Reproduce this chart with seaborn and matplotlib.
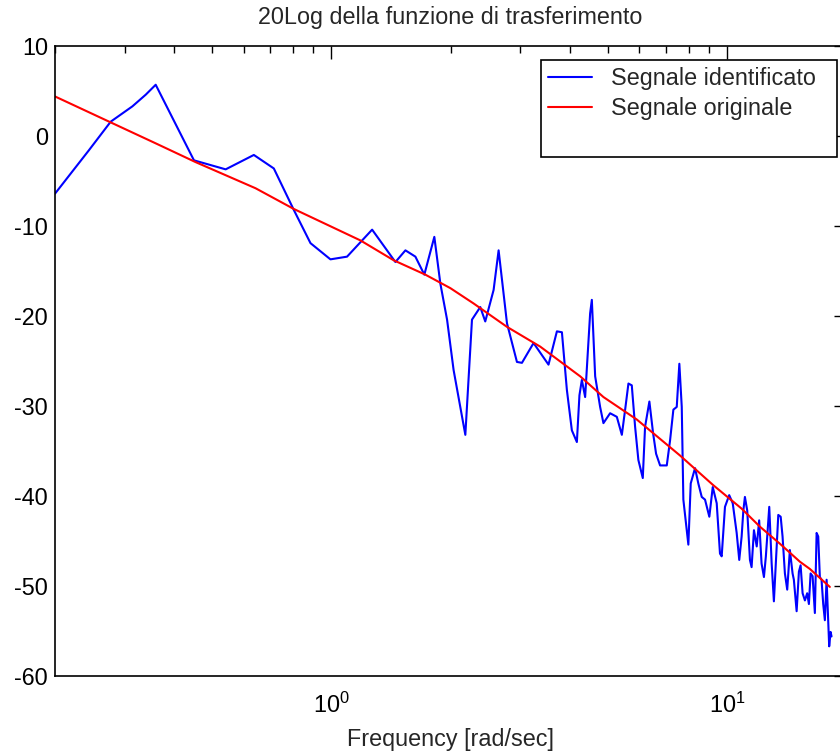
import matplotlib
matplotlib.use("Agg")
import matplotlib.pyplot as plt
import pandas as pd
import seaborn as sns
from matplotlib.lines import Line2D
from matplotlib.ticker import NullFormatter

# Identified transfer function (blue)
freq_ident = [0.2, 0.2434, 0.2766, 0.3138, 0.3392, 0.3594, 0.4491, 0.5401, 0.6364, 0.7149,
              0.8029, 0.885, 0.994, 1.095, 1.267, 1.451, 1.538, 1.630, 1.717, 1.820,
              1.885, 1.960, 2.036, 2.180, 2.266, 2.378, 2.448, 2.570, 2.646, 2.778,
              2.944, 3.031, 3.243, 3.538, 3.715, 3.825, 3.937, 4.053, 4.173, 4.236,
              4.296, 4.379, 4.508, 4.553, 4.642, 4.778, 4.871, 5.064, 5.266, 5.422,
              5.527, 5.634, 5.745, 5.857, 5.970, 6.125, 6.207, 6.365, 6.503, 6.618,
              6.774, 7.043, 7.180, 7.319, 7.464, 7.578, 7.685, 7.757, 7.911, 7.986,
              8.097, 8.303, 8.463, 8.633, 8.800, 9.023, 9.204, 9.419, 9.601, 9.696,
              9.884, 10.13, 10.34, 10.58, 10.74, 10.89, 11.00, 11.10, 11.25, 11.43,
              11.54, 11.70, 11.89, 12.06, 12.23, 12.40, 12.54, 12.79, 12.97, 13.14,
              13.30, 13.48, 13.67, 13.82, 14.01, 14.20, 14.42, 14.65, 14.76, 15.00,
              15.20, 15.35, 15.53, 15.74, 15.95, 16.11, 16.27, 16.46, 16.68, 16.85,
              17.01, 17.17, 17.34, 17.51, 17.68, 17.86, 18.02, 18.13, 18.28, 18.38]
db_ident = [-6.4, -1.6, 1.6, 3.3, 4.6, 5.7, -2.7, -3.7, -2.1, -3.6,
            -8.2, -11.9, -13.7, -13.4, -10.4, -14.0, -12.7, -13.4, -15.4, -11.2,
            -16.4, -20.4, -26.0, -33.2, -20.4, -19.0, -20.6, -17.1, -12.7, -20.8,
            -25.1, -25.2, -23.0, -25.4, -21.7, -21.8, -28.2, -32.7, -34.0, -28.8,
            -27.1, -29.0, -19.7, -18.2, -26.7, -30.1, -31.9, -30.8, -31.2, -33.2,
            -30.4, -27.5, -27.7, -32.3, -36.0, -38.0, -32.3, -29.5, -33.0, -35.3,
            -36.6, -36.6, -33.8, -30.4, -30.1, -25.3, -30.1, -40.4, -43.8, -45.4,
            -38.6, -36.9, -38.6, -40.1, -40.4, -42.3, -39.0, -40.8, -46.4, -46.7,
            -41.2, -39.9, -40.8, -44.1, -47.1, -44.5, -41.6, -40.1, -41.6, -47.1,
            -47.9, -43.8, -45.6, -42.7, -47.5, -49.0, -46.7, -41.2, -47.5, -51.7,
            -47.1, -42.1, -42.3, -44.5, -48.6, -50.4, -46.0, -48.6, -49.3, -52.8,
            -48.4, -47.7, -50.8, -51.6, -50.8, -52.0, -48.6, -48.9, -53.0, -44.1,
            -44.5, -49.0, -49.3, -52.0, -53.8, -49.3, -53.8, -56.7, -55.1, -55.6]

# Original transfer function (red)
freq_orig = [0.2, 0.274, 0.359, 0.4536, 0.6428, 0.803, 1.184, 1.436, 1.727, 1.998,
             2.287, 2.778, 3.372, 4.255, 4.871, 5.916, 7.609, 9.235, 10.89, 12.11,
             13.61, 15.29, 16.20, 18.20]
db_orig = [4.4, 1.6, -0.8, -2.9, -5.8, -8.1, -11.6, -13.8, -15.4, -16.9,
           -18.6, -21.2, -23.4, -26.7, -29.0, -31.5, -35.5, -38.8, -41.4, -43.4,
           -45.3, -47.3, -48.1, -50.1]

labels = ["Segnale identificato", "Segnale originale"]
colors = {"Segnale identificato": "blue", "Segnale originale": "red"}

sns.set_style("white")
plt.rcParams["font.family"] = ["Liberation Sans", "DejaVu Sans"]
plt.rcParams["axes.unicode_minus"] = False
FS = 16.8

df = pd.concat([
    pd.DataFrame({"freq": freq_ident, "db": db_ident, "serie": labels[0]}),
    pd.DataFrame({"freq": freq_orig, "db": db_orig, "serie": labels[1]}),
], ignore_index=True)

fig = plt.figure(figsize=(8.4, 7.55), dpi=100)
ax = fig.add_axes([0.0655, 0.1046, 0.9417, 0.8344])
sns.lineplot(data=df, x="freq", y="db", hue="serie", palette=colors,
             estimator=None, linewidth=1.5, legend=False, ax=ax)

ax.set_xscale("log")
ax.set_xlim(0.2, 20)
ax.set_ylim(-60, 10)
ax.set_yticks(range(-60, 11, 10))
ax.xaxis.set_minor_formatter(NullFormatter())
ax.tick_params(which="both", direction="in", top=True, right=True,
               labelsize=FS, colors="black", width=1)
ax.tick_params(which="major", length=9)
ax.tick_params(which="minor", length=5)
ax.tick_params(axis="x", pad=12)
ax.tick_params(axis="y", pad=5)
for sp in ax.spines.values():
    sp.set_color("black")
    sp.set_linewidth(1.2)

ax.set_xlabel("Frequency [rad/sec]", fontsize=FS, labelpad=7)
ax.set_ylabel("")
ax.set_title("20Log della funzione di trasferimento", fontsize=FS, pad=16)

handles = [Line2D([], [], color="blue", lw=1.5),
           Line2D([], [], color="red", lw=1.5),
           Line2D([], [], color="none")]
leg = ax.legend(handles, labels + [" "], loc="upper left",
                bbox_to_anchor=(0.614, 0.824, 0.375, 0.154), mode="expand",
                borderaxespad=0, fancybox=False, framealpha=1, edgecolor="black",
                fontsize=FS, handlelength=1.9, handletextpad=0.8,
                labelspacing=0.3, borderpad=0.3)
leg.get_frame().set_linewidth(1.2)

fig.savefig("out.png", dpi=100)
